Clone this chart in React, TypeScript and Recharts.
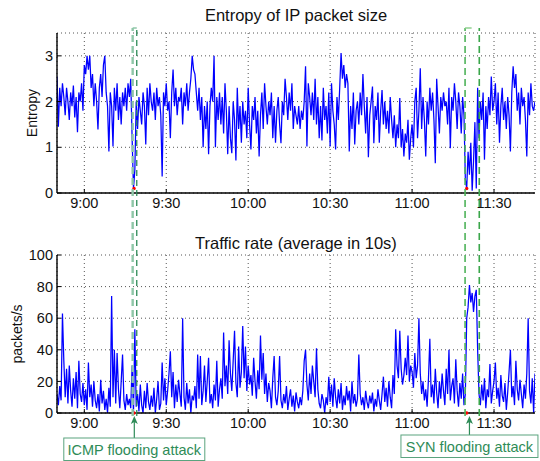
import React from 'react';
import { LineChart, Line, XAxis, YAxis, CartesianGrid, ReferenceLine, ReferenceDot } from 'recharts';

const FONT = '"Liberation Sans", Arial, Helvetica, sans-serif';

// time axis (minutes since midnight), sampled every half minute from 8:50
const START_MIN = 530;
const STEP_MIN = 0.5;
const X_DOMAIN: [number, number] = [530, 705];
const TIME_TICKS = [540, 570, 600, 630, 660, 690];
const ENTROPY_TICKS = [0, 1, 2, 3];
const RATE_TICKS = [0, 20, 40, 60, 80, 100];

const entropy = [
  2.55, 1.45, 2.3, 1.9, 2.4, 2.1, 1.7, 2.3, 2.0, 1.6,
  2.2, 1.9, 2.35, 1.65, 2.1, 1.33, 2.2, 2.0, 2.4, 1.8,
  2.8, 2.6, 3.0, 2.7, 3.0, 2.3, 2.6, 1.9, 2.4, 2.0,
  1.39, 2.3, 2.6, 2.1, 2.8, 3.0, 2.2, 1.9, 0.91, 2.2,
  1.9, 1.02, 2.3, 1.8, 2.4, 1.6, 2.1, 1.5, 2.2, 1.9,
  2.3, 1.8, 2.4, 2.1, 2.5, 1.2, 0.1, 0.5, 2.0, 1.4,
  2.1, 1.8, 1.5, 2.2, 1.9, 1.06, 2.3, 1.7, 2.4, 2.0,
  1.8, 2.2, 1.6, 2.3, 1.9, 2.1, 1.7, 0.36, 2.2, 1.9,
  2.4, 1.8, 2.0, 1.2, 2.2, 2.7, 1.9, 2.3, 1.7, 2.1,
  2.0, 2.3, 1.5, 2.2, 1.9, 2.4, 1.8, 2.2, 2.5, 3.0,
  2.7, 2.6, 2.2, 1.8, 2.3, 1.6, 2.1, 1.0, 1.9, 1.4,
  2.0, 0.85, 1.9, 2.3, 2.0, 3.0, 1.0, 2.1, 1.6, 2.2,
  1.5, 2.1, 1.3, 2.4, 1.8, 0.85, 1.9, 1.2, 0.87, 2.0,
  1.6, 0.71, 2.3, 1.4, 1.9, 1.1, 2.0, 1.5, 1.8, 1.2,
  2.3, 1.5, 0.95, 1.9, 1.6, 2.1, 1.3, 1.8, 0.8, 1.7,
  2.2, 1.4, 2.4, 1.9, 1.5, 2.0, 1.7, 2.2, 1.2, 1.9,
  1.1, 1.8, 2.1, 1.5, 1.09, 2.0, 1.7, 2.5, 2.1, 1.6,
  2.2, 1.8, 2.4, 1.4, 1.9, 1.7, 1.5, 1.9, 1.4, 1.8,
  1.6, 2.0, 2.77, 1.02, 2.4, 2.1, 1.7, 2.2, 1.6, 2.5,
  1.5, 2.1, 1.2, 1.9, 1.15, 2.3, 1.6, 1.9, 1.3, 2.2,
  1.02, 2.4, 1.8, 1.5, 0.95, 2.1, 1.6, 2.3, 3.06, 2.5,
  2.8, 2.3, 2.6, 2.4, 0.91, 1.9, 1.4, 2.2, 1.06, 1.8,
  2.0, 1.5, 2.2, 1.7, 2.6, 1.9, 1.3, 2.1, 0.78, 1.7,
  2.0, 2.33, 1.09, 1.9, 1.6, 2.2, 1.1, 1.8, 2.25, 1.5,
  2.0, 1.4, 1.8, 1.3, 2.1, 1.6, 1.2, 1.7, 1.0, 1.5,
  1.2, 2.08, 1.0, 1.4, 0.8, 1.3, 1.1, 1.6, 0.73, 1.2,
  1.5, 1.0, 2.0, 2.3, 1.2, 1.8, 2.73, 1.4, 2.1, 1.6,
  0.8, 2.0, 1.5, 2.3, 1.8, 2.2, 1.6, 0.65, 2.5, 1.9,
  1.3, 2.1, 1.8, 2.2, 1.9, 2.0, 1.5, 2.3, 0.98, 2.1,
  1.8, 2.4, 2.0, 1.4, 2.2, 1.9, 1.3, 2.1, 1.7, 0.3,
  0.1, 0.9, 0.4, 1.1, 0.05, 0.7, 1.55, 0.1, 2.3, 1.2,
  2.0, 1.6, 2.2, 0.73, 1.9, 1.4, 2.1, 1.7, 2.55, 1.8,
  2.0, 2.4, 1.5, 2.2, 1.1, 1.9, 2.3, 1.6, 2.0, 1.4,
  2.1, 1.7, 0.91, 2.2, 2.77, 2.3, 2.6, 1.8, 2.2, 1.5,
  2.3, 1.9, 2.1, 1.6, 0.8, 2.2, 1.7, 2.4, 1.9, 1.8,
  2.0,
];

const traffic = [
  12, 5, 17, 8, 63, 33, 10, 28, 6, 30,
  14, 4, 22, 9, 26, 3, 33, 12, 7, 19,
  5, 15, 2, 32, 10, 18, 4, 20, 8, 3,
  12, 1, 21, 6, 14, 2, 9, 0, 16, 4,
  74, 10, 40, 6, 38, 15, 3, 20, 37, 8,
  2, 12, 5, 9, 3, 30, 0, 53, 4, 12,
  1, 18, 5, 0, 14, 3, 19, 7, 2, 11,
  4, 16, 0, 9, 20, 2, 6, 32, 8, 22,
  5, 14, 25, 39, 10, 26, 3, 18, 7, 21,
  12, 4, 60, 10, 2, 19, 6, 15, 0, 11,
  8, 17, 3, 37, 9, 36, 5, 14, 30, 7,
  20, 35, 6, 12, 3, 18, 8, 33, 4, 15,
  22, 9, 51, 17, 30, 12, 46, 25, 14, 33,
  52, 19, 10, 42, 16, 26, 55, 22, 42, 14,
  30, 18, 24, 11, 35, 20, 9, 27, 15, 49,
  21, 38, 12, 25, 7, 19, 14, 3, 22, 36,
  10, 5, 14, 36, 8, 3, 12, 6, 17, 2,
  9, 15, 4, 11, 1, 13, 7, 3, 10, 5,
  14, 33, 40, 18, 8, 25, 12, 30, 20, 10,
  41, 15, 6, 3, 12, 8, 0, 10, 5, 23,
  7, 18, 4, 22, 10, 3, 15, 6, 19, 2,
  11, 5, 17, 8, 14, 1, 20, 6, 12, 4,
  9, 37, 12, 5, 10, 2, 14, 7, 3, 11,
  6, 13, 1, 9, 4, 15, 8, 2, 12, 23,
  7, 16, 4, 20, 10, 3, 24, 12, 53, 30,
  22, 52, 28, 18, 24, 35, 24, 49, 20, 30,
  26, 16, 38, 22, 30, 60, 25, 12, 20, 8,
  15, 4, 22, 47, 10, 18, 6, 28, 13, 3,
  20, 9, 25, 14, 5, 28, 12, 40, 8, 17,
  22, 6, 34, 14, 4, 19, 9, 25, 5, 12,
  60, 67, 81, 70, 76, 64, 74, 78, 40, 12,
  5, 18, 8, 22, 3, 15, 10, 31, 6, 14,
  20, 32, 9, 16, 4, 24, 11, 7, 19, 2,
  13, 26, 40, 10, 17, 5, 33, 15, 8, 21,
  12, 3, 18, 9, 25, 60, 14, 6, 22, 0,
  25,
];

// attack windows (minutes) and marks
const icmpWindow = [557.7, 559.2];
const synWindow = [679.4, 684.6];
const icmpMark = 558.2;
const synMark = 680.0;
const icmpArrow = 558.3;
const synArrow = 681.0;
const markEntropy = 0.1;
const markRate = 0;

const data = entropy.map((e, i) => ({ t: START_MIN + i * STEP_MIN, entropy: e, rate: traffic[i] }));

const fmt = (m: number) => `${Math.floor(m / 60)}:${String(Math.round(m % 60)).padStart(2, '0')}`;

const tickStyle = { fill: '#111', fontSize: 14.5, fontFamily: FONT };
const axisLine = { stroke: '#000', strokeWidth: 1.4 };
const tickLine = { stroke: '#000', strokeWidth: 1 };

const Callout = (props: any) => {
  const { cx, cy, text, gap, w } = props;
  const c = '#2e8b57';
  return (
    <g>
      <line x1={cx} y1={cy + gap} x2={cx} y2={cy + 6} stroke={c} strokeWidth={1.2} />
      <path d={`M${cx},${cy} L${cx - 3.5},${cy + 8} L${cx},${cy + 6} L${cx + 3.5},${cy + 8} Z`} fill={c} />
      <rect x={cx - w / 2} y={cy + gap} width={w} height={22.5} fill="#fff" stroke="#5aa37e" strokeWidth={1} />
      <text x={cx} y={cy + gap + 16.5} textAnchor="middle" fontSize={14.5} fill={c} fontFamily={FONT}>{text}</text>
    </g>
  );
};

const Panel = ({ top, height, margin, yDomain, yTicks, dataKey, mark }: any) => (
  <div style={{ position: 'absolute', left: 0, top, width: 540, height }}>
    <LineChart width={540} height={height} data={data} margin={margin}>
      <CartesianGrid stroke="#555" strokeDasharray="1 3" />
      <XAxis dataKey="t" type="number" domain={X_DOMAIN} ticks={TIME_TICKS} tickFormatter={fmt} interval={0}
        height={30} tickSize={-4} tickMargin={9} axisLine={axisLine} tickLine={tickLine} tick={tickStyle} allowDataOverflow />
      <XAxis xAxisId="top" orientation="top" dataKey="t" type="number" domain={X_DOMAIN} ticks={TIME_TICKS} interval={0}
        height={0} tick={false} tickSize={-4} axisLine={axisLine} tickLine={tickLine} allowDataOverflow />
      <YAxis type="number" domain={yDomain} ticks={yTicks} interval={0} width={30} tickSize={-4} tickMargin={8}
        axisLine={axisLine} tickLine={tickLine} tick={tickStyle} allowDataOverflow />
      <YAxis yAxisId="right" orientation="right" type="number" domain={yDomain} ticks={yTicks} interval={0} width={0}
        tick={false} tickSize={-4} axisLine={axisLine} tickLine={tickLine} allowDataOverflow />
      <Line type="linear" dataKey={dataKey} stroke="#0000ff" strokeWidth={1.25} dot={false} isAnimationActive={false} />
      <ReferenceDot x={icmpMark} y={mark} r={1.7} fill="#ff0000" stroke="none" />
      <ReferenceDot x={synMark} y={mark} r={1.7} fill="#ff0000" stroke="none" />
    </LineChart>
  </div>
);

export default function App() {
  return (
    <div style={{ position: 'absolute', left: 0, top: 0, width: 540, height: 461, background: '#fff', overflow: 'hidden' }}>
      <Panel top={0} height={230} margin={{ top: 33, right: 5, bottom: 7, left: 27 }}
        yDomain={[0, 3.5]} yTicks={ENTROPY_TICKS} dataKey="entropy" mark={markEntropy} />
      <Panel top={230} height={231} margin={{ top: 25, right: 5, bottom: 18, left: 27 }}
        yDomain={[0, 100]} yTicks={RATE_TICKS} dataKey="rate" mark={markRate} />

      <div style={{ position: 'absolute', left: 0, top: 0, width: 540, height: 461, pointerEvents: 'none' }}>
        <LineChart width={540} height={461} data={data} margin={{ top: 28, right: 5, bottom: 45, left: 57 }}>
          <XAxis dataKey="t" type="number" domain={X_DOMAIN} hide allowDataOverflow />
          <YAxis type="number" domain={[0, 1]} hide allowDataOverflow />
          <ReferenceLine x={icmpWindow[0]} stroke="#8fc7a8" strokeWidth={2.4} strokeDasharray="7 4" />
          <ReferenceLine x={icmpWindow[1]} stroke="#2e8b57" strokeWidth={1.3} strokeDasharray="6 4" />
          <ReferenceLine segment={[{ x: icmpWindow[0], y: 1 }, { x: icmpWindow[1], y: 1 }]} stroke="#8fc7a8" strokeWidth={1.5} />
          <ReferenceLine x={synWindow[0]} stroke="#4fb35a" strokeWidth={1.6} strokeDasharray="7 4" />
          <ReferenceLine x={synWindow[1]} stroke="#3aa64a" strokeWidth={1.6} strokeDasharray="7 4" />
          <ReferenceLine segment={[{ x: synWindow[0], y: 1 }, { x: synWindow[0] + 2.4, y: 1 }]} stroke="#8fd08f" strokeWidth={1.5} />
          <ReferenceDot x={icmpArrow} y={0} r={0}
            shape={(p: any) => <Callout cx={p.cx} cy={p.cy} text="ICMP flooding attack" gap={22} w={141} />} />
          <ReferenceDot x={synArrow} y={0} r={0}
            shape={(p: any) => <Callout cx={p.cx} cy={p.cy} text="SYN flooding attack" gap={19} w={137} />} />
        </LineChart>
      </div>

      <svg width={540} height={461} style={{ position: 'absolute', left: 0, top: 0, pointerEvents: 'none' }}>
        <text x={296} y={20.5} textAnchor="middle" fontSize={16.5} fill="#111" fontFamily={FONT}>Entropy of IP packet size</text>
        <text x={296} y={249} textAnchor="middle" fontSize={16.5} fill="#111" fontFamily={FONT}>Traffic rate (average in 10s)</text>
        <text transform="translate(37,113) rotate(-90)" textAnchor="middle" fontSize={14} fill="#111" fontFamily={FONT}>Entropy</text>
        <text transform="translate(22,334) rotate(-90)" textAnchor="middle" fontSize={14} fill="#111" fontFamily={FONT}>packets/s</text>
      </svg>
    </div>
  );
}
